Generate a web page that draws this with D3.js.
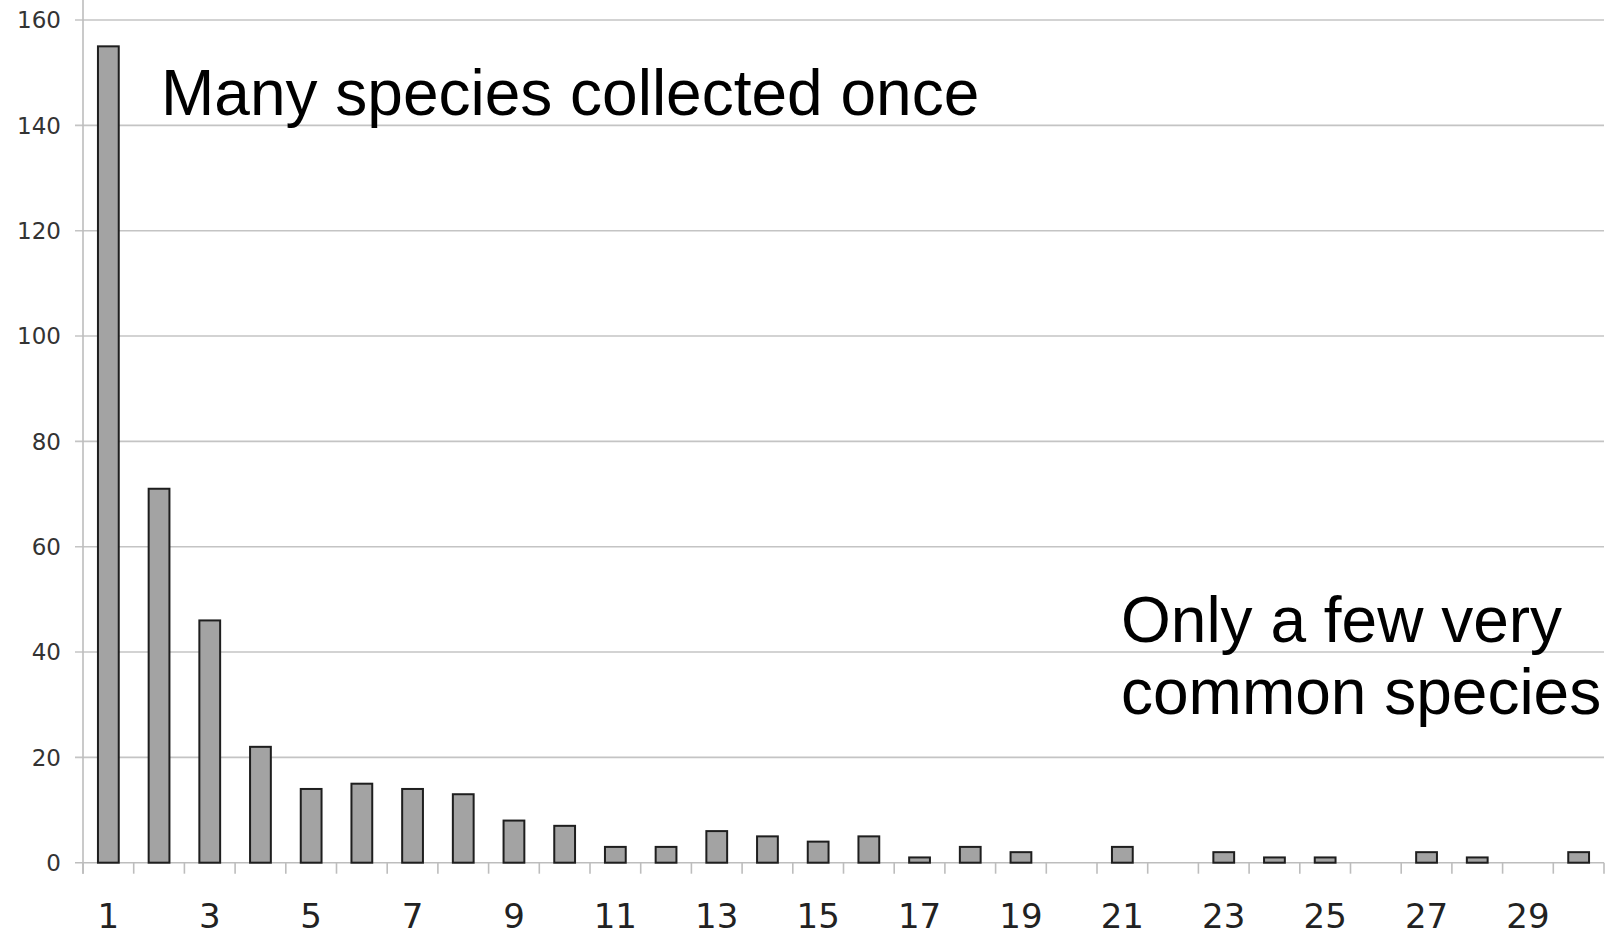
<!DOCTYPE html>
<html>
<head>
<meta charset="utf-8">
<script src="https://cdn.jsdelivr.net/npm/d3@7"></script>
<style>
  html, body { margin: 0; padding: 0; background: #fff; }
  svg { display: block; }
  .ann { font-family: "Liberation Sans", Arial, sans-serif; }
  .tick { font-family: "DejaVu Sans", Verdana, sans-serif; }
</style>
</head>
<body>
<svg id="chart" width="1608" height="935"></svg>
<script>
// Data
const categories = d3.range(1, 31);
const counts = [155, 71, 46, 22, 14, 15, 14, 13, 8, 7, 3, 3, 6, 5, 4, 5, 1, 3, 2, 0, 3, 0, 2, 1, 1, 0, 2, 1, 0, 2];
const yTicks = [0, 20, 40, 60, 80, 100, 120, 140, 160];
const xTickLabels = [1, 3, 5, 7, 9, 11, 13, 15, 17, 19, 21, 23, 25, 27, 29];
const annotations = [
  { lines: ["Many species collected once"] },
  { lines: ["Only a few very", "common species"] }
];

(function () {
const svg = d3.select("#chart");
const pLeft = 83, pRight = 1604, pTop = 20, pBottom = 862.7;

const x = d3.scaleBand().domain(categories).range([pLeft, pRight]).paddingInner(0).paddingOuter(0);
const y = d3.scaleLinear().domain([0, 160]).range([pBottom, pTop]);

// gridlines
svg.append("g").selectAll("line").data(yTicks.filter(d => d > 0)).join("line")
  .attr("x1", pLeft - 8).attr("x2", pRight)
  .attr("y1", d => y(d)).attr("y2", d => y(d))
  .attr("stroke", "#c4c4c4").attr("stroke-width", 1.6);

// y axis vertical line
svg.append("line").attr("x1", pLeft).attr("x2", pLeft).attr("y1", 0).attr("y2", pBottom + 11)
  .attr("stroke", "#bdbdbd").attr("stroke-width", 1.6);

// y labels
svg.append("g").selectAll("text").data(yTicks).join("text")
  .attr("class", "tick")
  .attr("x", 61).attr("y", d => y(d)).attr("dy", "0.36em")
  .attr("text-anchor", "end")
  .attr("font-size", 23).attr("fill", "#333")
  .text(d => d);

// x baseline
svg.append("line").attr("x1", pLeft - 8).attr("x2", pRight).attr("y1", pBottom).attr("y2", pBottom)
  .attr("stroke", "#bdbdbd").attr("stroke-width", 1.6);

// x ticks at band boundaries
const boundaries = categories.map(c => x(c)).concat([x(categories[categories.length - 1]) + x.bandwidth()]);
svg.append("g").selectAll("line").data(boundaries).join("line")
  .attr("x1", d => d).attr("x2", d => d).attr("y1", pBottom).attr("y2", pBottom + 11)
  .attr("stroke", "#bdbdbd").attr("stroke-width", 1.6);

// bars
const barW = x.bandwidth() * 0.41;
svg.append("g").selectAll("rect").data(categories.map((c, i) => ({ c, v: counts[i] })).filter(d => d.v > 0)).join("rect")
  .attr("x", d => x(d.c) + (x.bandwidth() - barW) / 2)
  .attr("y", d => y(d.v))
  .attr("width", barW)
  .attr("height", d => y(0) - y(d.v))
  .attr("fill", "#a3a3a3")
  .attr("stroke", "#1e1e1e").attr("stroke-width", 2);

// x labels
svg.append("g").selectAll("text").data(xTickLabels).join("text")
  .attr("class", "tick")
  .attr("x", d => x(d) + x.bandwidth() / 2).attr("y", 928)
  .attr("text-anchor", "middle")
  .attr("font-size", 34).attr("fill", "#222")
  .text(d => d);

// annotations
svg.append("text").attr("class", "ann").attr("x", 161).attr("y", 115)
  .attr("font-size", 64).attr("fill", "#000")
  .text(annotations[0].lines[0]);

const a2 = svg.append("text").attr("class", "ann")
  .attr("font-size", 64).attr("fill", "#000");
annotations[1].lines.forEach((l, i) => {
  a2.append("tspan").attr("x", 1121).attr("y", 642 + i * 72).text(l);
});
})();
</script>
</body>
</html>
